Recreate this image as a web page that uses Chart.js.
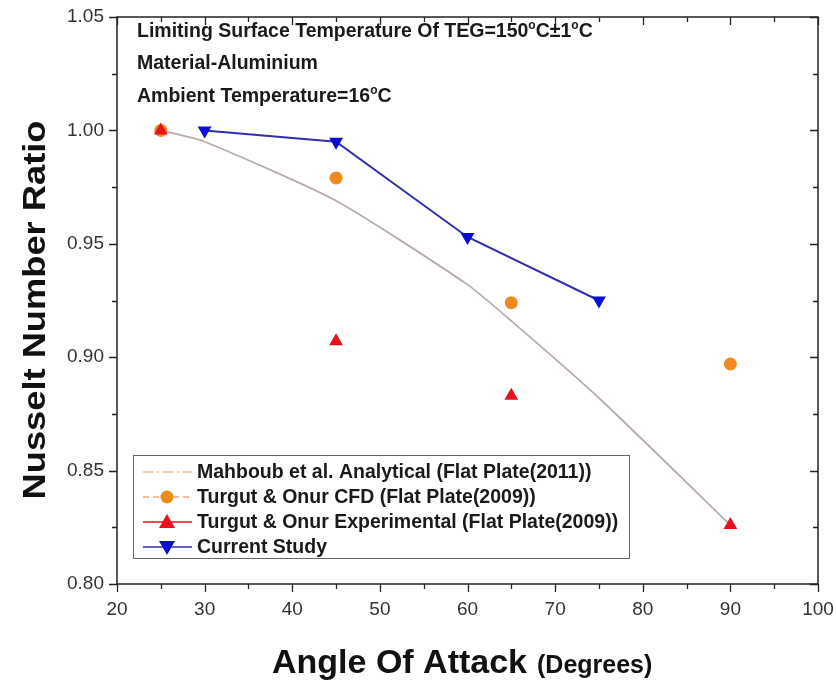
<!DOCTYPE html>
<html>
<head>
<meta charset="utf-8">
<title>Nusselt Number Ratio vs Angle Of Attack</title>
<script src="https://cdn.jsdelivr.net/npm/chart.js@4.4.1/dist/chart.umd.min.js"></script>
<style>
  html, body { margin: 0; padding: 0; background: #fff; }
  #wrap { width: 836px; height: 683px; position: relative; }
</style>
</head>
<body>
<div id="wrap"><canvas id="nu-chart" width="836" height="683"></canvas></div>
<script>
// ---- data ----
const analyticalAngles = [25, 30, 45, 60, 65, 75, 90];
const analyticalRatio  = [1.000, 0.995, 0.969, 0.932, 0.916, 0.882, 0.826];

const cfdAngles = [25, 45, 65, 90];
const cfdRatio  = [1.000, 0.979, 0.924, 0.897];

const expAngles = [25, 45, 65, 90];
const expRatio  = [1.000, 0.907, 0.883, 0.826];

const studyAngles = [30, 45, 60, 75];
const studyRatio  = [1.000, 0.995, 0.953, 0.925];

const seriesNames = [
  'Mahboub et al. Analytical (Flat Plate(2011))',
  'Turgut & Onur CFD (Flat Plate(2009))',
  'Turgut & Onur Experimental (Flat Plate(2009))',
  'Current Study'
];

const xMin = 20, xMax = 100, xMajor = 10, xMinor = 5;
const yMin = 0.80, yMax = 1.05, yMajor = 0.05, yMinor = 0.025;

const FONT = '"Liberation Sans", Arial, Helvetica, sans-serif';

const COL_ANALYTICAL = 'rgb(186,172,170)';
const COL_CFD = '#f18a1e';
const COL_EXP = '#e8121c';
const COL_STUDY_LINE = '#2f2fae';
const COL_STUDY_PT = '#0b0bd6';

function pts(xs, ys) { return xs.map((x, i) => ({ x, y: ys[i] })); }

// text with raised small "o" pieces, e.g. degree signs
function drawRich(ctx, parts, x, y, size) {
  let cx = x;
  parts.forEach(p => {
    if (p.sup) {
      ctx.font = 'bold ' + Math.round(size * 0.6) + 'px ' + FONT;
      ctx.fillText(p.t, cx, y - size * 0.42);
    } else {
      ctx.font = 'bold ' + size + 'px ' + FONT;
      ctx.fillText(p.t, cx, y);
    }
    cx += ctx.measureText(p.t).width;
  });
}

const frameAndText = {
  id: 'frameAndText',
  afterDraw(chart) {
    const ctx = chart.ctx;
    const a = chart.chartArea;
    const xs = chart.scales.x, ys = chart.scales.y;
    ctx.save();

    // frame
    ctx.strokeStyle = '#222';
    ctx.lineWidth = 1.5;
    ctx.strokeRect(a.left, a.top, a.right - a.left, a.bottom - a.top);

    // ticks: out on bottom/left, in on top/right
    ctx.lineWidth = 1.3;
    ctx.beginPath();
    for (let v = xMin; v <= xMax + 1e-9; v += xMinor) {
      const px = Math.round(xs.getPixelForValue(v)) + 0.5;
      const len = (Math.abs(v / xMajor - Math.round(v / xMajor)) < 1e-6) ? 8 : 5;
      ctx.moveTo(px, a.bottom); ctx.lineTo(px, a.bottom + len);
      ctx.moveTo(px, a.top); ctx.lineTo(px, a.top + len);
    }
    for (let k = 0; k <= Math.round((yMax - yMin) / yMinor); k++) {
      const v = yMin + k * yMinor;
      const py = Math.round(ys.getPixelForValue(v)) + 0.5;
      const len = (k % 2 === 0) ? 8 : 5;
      ctx.moveTo(a.left, py); ctx.lineTo(a.left - len, py);
      ctx.moveTo(a.right, py); ctx.lineTo(a.right - len, py);
    }
    ctx.stroke();

    // axis titles
    ctx.fillStyle = '#111';
    ctx.textBaseline = 'alphabetic';
    ctx.font = 'bold 34px ' + FONT;
    const t1 = 'Angle Of Attack';
    const w1 = ctx.measureText(t1).width;
    const startX = 272;
    ctx.fillText(t1, startX, 673);
    ctx.font = 'bold 25px ' + FONT;
    ctx.fillText('(Degrees)', startX + w1 + 10, 673);

    ctx.save();
    ctx.translate(45, 310);
    ctx.rotate(-Math.PI / 2);
    ctx.scale(1.17, 1);
    ctx.font = 'bold 31px ' + FONT;
    ctx.textAlign = 'center';
    ctx.fillText('Nusselt Number Ratio', 0, 0);
    ctx.restore();

    // conditions note
    ctx.fillStyle = '#1a1a1a';
    ctx.textAlign = 'left';
    drawRich(ctx, [
      { t: 'Limiting Surface Temperature Of TEG=150' }, { t: 'o', sup: true },
      { t: 'C\u00B11' }, { t: 'o', sup: true }, { t: 'C' }
    ], 137, 37, 19.5);
    drawRich(ctx, [{ t: 'Material-Aluminium' }], 137, 69, 19.5);
    drawRich(ctx, [{ t: 'Ambient Temperature=16' }, { t: 'o', sup: true }, { t: 'C' }], 137, 102, 19.5);

    // legend
    const lx = 133, ly = 455, lw = 496, lh = 103;
    ctx.fillStyle = '#fff';
    ctx.fillRect(lx, ly, lw, lh);
    ctx.strokeStyle = '#666';
    ctx.lineWidth = 1;
    ctx.strokeRect(lx + 0.5, ly + 0.5, lw, lh);

    const rows = [472, 497, 522, 547];
    const sx0 = 143, sx1 = 192, smid = 167;
    // analytical: dash-dot
    ctx.strokeStyle = 'rgb(226,186,160)';
    ctx.lineWidth = 1.5;
    ctx.setLineDash([10, 4, 2, 4]);
    ctx.beginPath(); ctx.moveTo(sx0, rows[0]); ctx.lineTo(sx1, rows[0]); ctx.stroke();
    // cfd: dashed
    ctx.strokeStyle = 'rgb(238,170,120)';
    ctx.setLineDash([6, 4]);
    ctx.beginPath(); ctx.moveTo(sx0, rows[1]); ctx.lineTo(sx1, rows[1]); ctx.stroke();
    ctx.setLineDash([]);
    ctx.fillStyle = COL_CFD;
    ctx.beginPath(); ctx.arc(smid, rows[1], 6.5, 0, Math.PI * 2); ctx.fill();
    // experimental
    ctx.strokeStyle = COL_EXP;
    ctx.beginPath(); ctx.moveTo(sx0, rows[2]); ctx.lineTo(sx1, rows[2]); ctx.stroke();
    ctx.fillStyle = COL_EXP;
    ctx.beginPath();
    ctx.moveTo(smid, rows[2] - 8); ctx.lineTo(smid + 8, rows[2] + 6); ctx.lineTo(smid - 8, rows[2] + 6);
    ctx.closePath(); ctx.fill();
    // current study
    ctx.strokeStyle = COL_STUDY_LINE;
    ctx.beginPath(); ctx.moveTo(sx0, rows[3]); ctx.lineTo(sx1, rows[3]); ctx.stroke();
    ctx.fillStyle = COL_STUDY_PT;
    ctx.beginPath();
    ctx.moveTo(smid, rows[3] + 8); ctx.lineTo(smid + 8, rows[3] - 6); ctx.lineTo(smid - 8, rows[3] - 6);
    ctx.closePath(); ctx.fill();

    ctx.fillStyle = '#1a1a1a';
    ctx.font = 'bold 19.5px ' + FONT;
    ctx.textBaseline = 'middle';
    seriesNames.forEach((n, i) => ctx.fillText(n, 197, rows[i] + 1));

    ctx.restore();
  }
};

new Chart(document.getElementById('nu-chart'), {
  type: 'scatter',
  data: {
    datasets: [
      {
        label: seriesNames[2],
        data: pts(expAngles, expRatio),
        showLine: false,
        pointStyle: 'triangle',
        pointRadius: 8,
        backgroundColor: COL_EXP,
        borderColor: COL_EXP,
        borderWidth: 0,
        order: 1
      },
      {
        label: seriesNames[3],
        data: pts(studyAngles, studyRatio),
        showLine: true,
        borderColor: COL_STUDY_LINE,
        borderWidth: 2,
        pointStyle: 'triangle',
        rotation: 180,
        pointRadius: 8,
        pointBackgroundColor: COL_STUDY_PT,
        pointBorderColor: COL_STUDY_PT,
        pointBorderWidth: 0,
        order: 2
      },
      {
        label: seriesNames[1],
        data: pts(cfdAngles, cfdRatio),
        showLine: false,
        pointStyle: 'circle',
        pointRadius: 6.5,
        backgroundColor: COL_CFD,
        borderColor: COL_CFD,
        borderWidth: 0,
        order: 3
      },
      {
        label: seriesNames[0],
        data: pts(analyticalAngles, analyticalRatio),
        showLine: true,
        borderColor: COL_ANALYTICAL,
        borderWidth: 1.8,
        tension: 0.2,
        pointRadius: 0,
        order: 4
      }
    ]
  },
  options: {
    responsive: false,
    animation: false,
    layout: { padding: { left: 0, right: 18, top: 17, bottom: 0 } },
    plugins: {
      legend: { display: false },
      tooltip: { enabled: false }
    },
    scales: {
      x: {
        type: 'linear',
        min: xMin, max: xMax,
        grid: { display: false, drawTicks: false },
        border: { display: false },
        ticks: {
          stepSize: xMajor,
          padding: 14,
          color: '#333',
          font: { family: FONT, size: 19 }
        },
        afterFit(scale) {
          scale.height = 99;
          scale.paddingLeft = 0;
          scale.paddingRight = 0;
        }
      },
      y: {
        type: 'linear',
        min: yMin, max: yMax,
        grid: { display: false, drawTicks: false },
        border: { display: false },
        ticks: {
          stepSize: yMajor,
          padding: 13,
          color: '#333',
          font: { family: FONT, size: 19 },
          callback: v => v.toFixed(2)
        },
        afterFit(scale) {
          scale.width = 117;
          scale.paddingTop = 0;
          scale.paddingBottom = 0;
        }
      }
    }
  },
  plugins: [frameAndText]
});
</script>
</body>
</html>
